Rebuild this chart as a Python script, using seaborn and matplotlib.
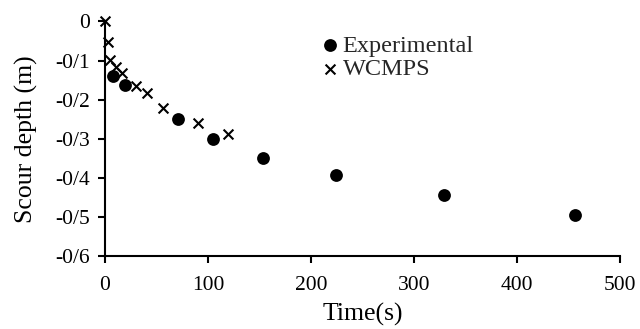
import matplotlib
matplotlib.use("Agg")
import matplotlib.pyplot as plt
import seaborn as sns
import pandas as pd

exp_time = [8, 19, 71, 105, 153, 224, 329, 456]
exp_depth = [-0.139, -0.162, -0.25, -0.30, -0.349, -0.391, -0.443, -0.495]
sim_time = [0, 2.6, 4.9, 10.4, 16.2, 29.8, 41.1, 56.7, 90.7, 119.8]
sim_depth = [0, -0.052, -0.098, -0.117, -0.132, -0.165, -0.182, -0.22, -0.259, -0.286]
y_ticks = [0, -0.1, -0.2, -0.3, -0.4, -0.5, -0.6]
y_labels = ["0", "-0/1", "-0/2", "-0/3", "-0/4", "-0/5", "-0/6"]
x_ticks = [0, 100, 200, 300, 400, 500]

sns.set_style("white")
plt.rcParams['font.family'] = ['Liberation Serif', 'DejaVu Serif']

fig = plt.figure(figsize=(6.4, 3.29), dpi=100)
ax = fig.add_axes([0.164, 0.2204, 0.805, 0.7143])

df_exp = pd.DataFrame({"t": exp_time, "d": exp_depth})
df_sim = pd.DataFrame({"t": sim_time, "d": sim_depth})
sns.scatterplot(data=df_exp, x="t", y="d", ax=ax, marker="o", s=85, color="black",
                edgecolor="black", linewidth=0, label="Experimental", zorder=3,
                clip_on=False)
sns.scatterplot(data=df_sim, x="t", y="d", ax=ax, marker="x", s=50, color="black",
                linewidth=1.5, label="WCMPS", zorder=3, clip_on=False)

ax.set_xlim(0, 500)
ax.set_ylim(-0.6, 0)
ax.set_xticks(x_ticks)
ax.set_yticks(y_ticks)
ax.set_yticklabels(y_labels)
for s in ["top", "right"]:
    ax.spines[s].set_visible(False)
for s in ["left", "bottom"]:
    ax.spines[s].set_color("black")
    ax.spines[s].set_linewidth(1.5)
ax.tick_params(axis="both", direction="out", length=5, width=1.5, color="black",
               labelsize=15.5, colors="black", left=True, bottom=True)
ax.tick_params(axis="x", pad=9)
ax.tick_params(axis="y", pad=6)
ax.set_xlabel("Time(s)", fontsize=18.5, color="black", labelpad=6)
ax.set_ylabel("Scour depth (m)", fontsize=18.5, color="black", labelpad=12)

leg = ax.legend(loc="upper left", bbox_to_anchor=(0.395, 0.985), frameon=False,
                fontsize=17.5, handletextpad=0.0, labelspacing=0.05, borderaxespad=0,
                handlelength=1.0)

fig.savefig("out.png", dpi=100)
